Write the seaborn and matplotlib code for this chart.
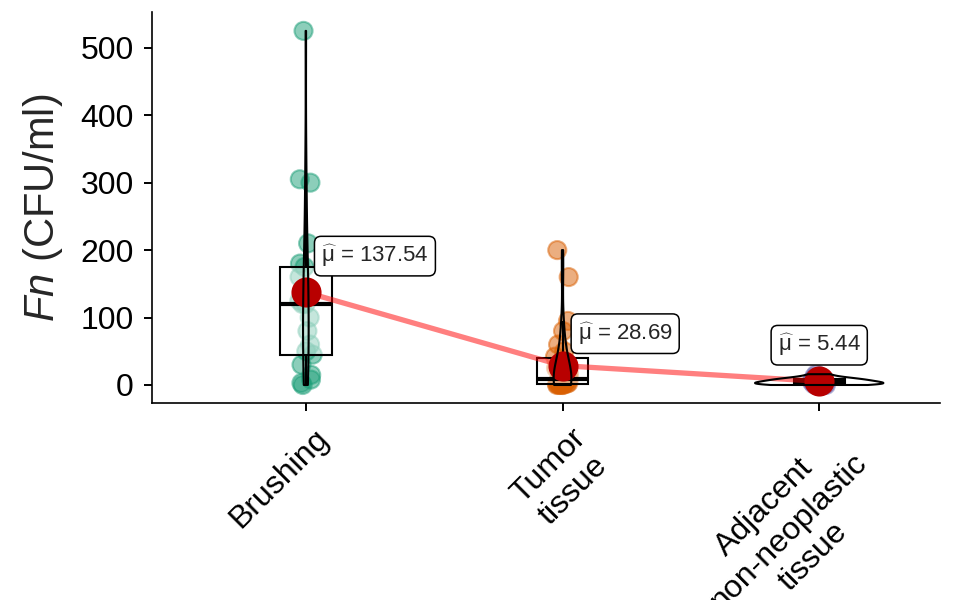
import numpy as np
import pandas as pd
import matplotlib.pyplot as plt
import matplotlib.transforms as mtransforms
import seaborn as sns

# Values
groups = ['Brushing', 'Tumor tissue', 'Adjacent non-neoplastic tissue']
tick_labels = ['Brushing', 'Tumor\ntissue', 'Adjacent\nnon-neoplastic\ntissue']
brushing = [525, 305, 300, 210, 180, 175, 160, 140, 125, 120, 120, 100,
            80, 60, 50, 45, 30, 15, 8, 3, 0]
tumor = [200, 160, 95, 80, 60, 50, 42, 35, 30, 25, 18, 12, 10, 8, 6, 5,
         4, 3, 2, 2, 1, 1, 0, 0, 0, 0]
adjacent = [0, 0, 1, 1, 2, 3, 3, 4, 5, 6, 7, 8, 9, 10, 12, 16]
group_means = [137.54, 28.69, 5.44]
mean_labels = ['137.54', '28.69', '5.44']
palette = ['#1B9E77', '#D95F02', '#7570B3']

df = pd.DataFrame({
    'group': [groups[0]] * len(brushing) + [groups[1]] * len(tumor) + [groups[2]] * len(adjacent),
    'cfu': brushing + tumor + adjacent,
})

sns.set_style('ticks')
plt.rcParams['font.family'] = ['Liberation Sans', 'DejaVu Sans']
plt.rcParams['mathtext.fontset'] = 'custom'
plt.rcParams['mathtext.rm'] = 'Liberation Sans'
plt.rcParams['mathtext.it'] = 'Liberation Sans:italic'

fig, ax = plt.subplots(figsize=(9.61, 6), dpi=100)
fig.subplots_adjust(left=0.158, right=0.978, top=0.98, bottom=0.328)

# jittered raw points
sns.stripplot(data=df, x='group', y='cfu', hue='group', palette=palette, size=13,
              alpha=0.5, jitter=0.03, linewidth=1.5, legend=False, zorder=1, ax=ax)
for coll in ax.collections:
    coll.set_edgecolor(coll.get_facecolor())

# boxplot (semi-transparent white fill)
sns.boxplot(data=df, x='group', y='cfu', width=0.2, showfliers=False, showcaps=False,
            linecolor='black', linewidth=1.5,
            boxprops=dict(facecolor=(1, 1, 1, 0.5), zorder=2),
            medianprops=dict(linewidth=3, color='black'), ax=ax)

# mean line and mean points
x_pos = np.arange(len(groups))
sns.lineplot(x=x_pos, y=group_means, color='red', alpha=0.5, linewidth=3.8, zorder=3, ax=ax)
sns.scatterplot(x=x_pos, y=group_means, color='#B80000', s=470, linewidth=0, zorder=4, ax=ax)

# violins
sns.violinplot(data=df, x='group', y='cfu', density_norm='area', cut=0, width=0.5,
               fill=False, color='black', linewidth=1.5, inner=None, zorder=5, ax=ax)

# mean labels
offsets = [(11, 26), (11, 23), (0, 26)]
aligns = ['left', 'left', 'center']
for i, (m, lab) in enumerate(zip(group_means, mean_labels)):
    ax.annotate(r'$\widehat{\mathrm{\mu}}$ = ' + lab, xy=(i, m), xytext=offsets[i],
                textcoords='offset points', ha=aligns[i], va='center', fontsize=16,
                bbox=dict(boxstyle='round,pad=0.3', fc='white', ec='black', lw=1.1),
                zorder=6)

ax.set_xlim(-0.6, 2.47)
ax.set_ylim(-27, 553)
ax.set_yticks([0, 100, 200, 300, 400, 500])
ax.set_xticks(x_pos)
ax.set_xticklabels(tick_labels, rotation=45, ha='right', rotation_mode='anchor',
                   fontsize=23, multialignment='center')
ax.tick_params(axis='both', length=6, width=1.4, colors='black', labelsize=23, pad=7)
shift = mtransforms.ScaledTranslation(8 / 100, -2 / 100, fig.dpi_scale_trans)
for lbl in ax.get_xticklabels():
    lbl.set_transform(lbl.get_transform() + shift)
ax.set_xlabel('')
ax.set_ylabel(r'$\it{Fn}$ (CFU/ml)', fontsize=30, labelpad=11)
sns.despine(ax=ax)
for s in ['left', 'bottom']:
    ax.spines[s].set_linewidth(1.2)
    ax.spines[s].set_color('black')

fig.savefig('out.png', dpi=100)
